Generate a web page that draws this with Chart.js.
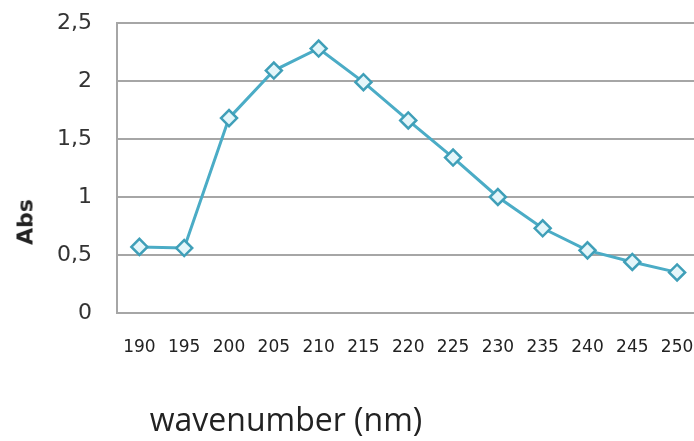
<!DOCTYPE html>
<html>
<head>
<meta charset="utf-8">
<script src="https://cdn.jsdelivr.net/npm/chart.js@4"></script>
<style>
  html, body { margin: 0; padding: 0; background: #fff; overflow: hidden; }
  #wrap { position: relative; width: 694px; height: 441px; overflow: hidden; }
  #absChart { position: absolute; left: 0; top: 0; display: block; }
  #yTitle {
    position: absolute; left: 25px; top: 222px;
    transform: translate(-50%, -50%) rotate(-90deg);
    font: bold 22px "DejaVu Sans", sans-serif; color: #222;
  }
  #xTitle {
    position: absolute; left: 286px; top: 418px;
    transform: translate(-50%, -50%);
    font: 32px "Open Sans", sans-serif; color: #222; white-space: nowrap;
  }
</style>
</head>
<body>
<div id="wrap">
  <canvas id="absChart" width="710" height="441"></canvas>
  <div id="yTitle">Abs</div>
  <div id="xTitle">wavenumber (nm)</div>
</div>
<script>
// wavelengths on the x axis
const wavelengths = ['190', '195', '200', '205', '210', '215', '220', '225', '230', '235', '240', '245', '250'];
// absorbance
const absValues = [0.57, 0.56, 1.68, 2.09, 2.28, 1.99, 1.66, 1.34, 1.0, 0.73, 0.54, 0.44, 0.35];
// y axis ticks
const yTicks = [0, 0.5, 1, 1.5, 2, 2.5];

const gridGray = '#a6a6a6';

new Chart(document.getElementById('absChart'), {
  type: 'line',
  data: {
    labels: wavelengths,
    datasets: [{
      data: absValues,
      borderColor: '#4bacc6',
      borderWidth: 3,
      tension: 0,
      pointStyle: 'rectRot',
      pointRadius: 8,
      pointBorderWidth: 2.5,
      pointBorderColor: '#3f9fb8',
      pointBackgroundColor: '#e4f6fa'
    }]
  },
  options: {
    responsive: false,
    animation: false,
    layout: { padding: { top: 23, right: 0, bottom: 0, left: 0 } },
    plugins: { legend: { display: false }, tooltip: { enabled: false } },
    scales: {
      x: {
        offset: true,
        grid: { display: false },
        border: { display: true, color: gridGray, width: 2 },
        ticks: {
          color: '#222',
          font: { family: '"DejaVu Sans", sans-serif', size: 17 },
          padding: 16,
          maxRotation: 0,
          autoSkip: false
        },
        afterFit: (scale) => {
          scale.height = 128;
          scale.paddingLeft = 0;
          scale.paddingRight = 0;
        }
      },
      y: {
        min: 0,
        max: 2.5,
        afterBuildTicks: (scale) => { scale.ticks = yTicks.map(v => ({ value: v })); },
        grid: { color: gridGray, lineWidth: 2, drawTicks: false },
        border: { display: true, color: gridGray, width: 2 },
        ticks: {
          color: '#333',
          font: { family: '"DejaVu Sans", sans-serif', size: 22 },
          padding: 25,
          callback: (v) => String(v).replace('.', ',')
        },
        afterFit: (scale) => {
          scale.width = 117;
          scale.paddingTop = 0;
          scale.paddingBottom = 0;
        }
      }
    }
  }
});
</script>
</body>
</html>
